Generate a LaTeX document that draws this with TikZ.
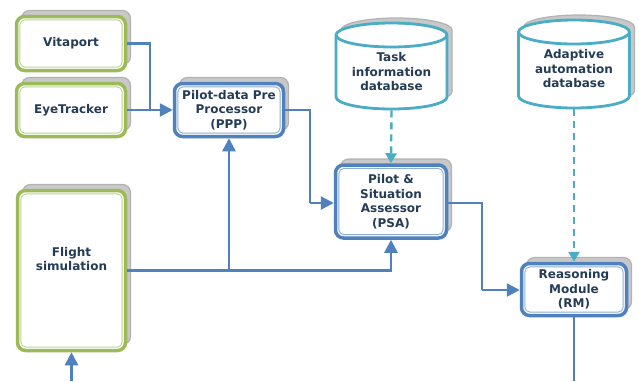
\documentclass[tikz,border=0pt]{standalone}
\usepackage{fontspec}
\setmainfont{DejaVu Sans}
\usetikzlibrary{arrows.meta,shadows}

\definecolor{leaf}{RGB}{155,187,89}
\definecolor{steel}{RGB}{79,129,189}
\definecolor{aqua}{RGB}{75,172,198}
\definecolor{ink}{RGB}{36,60,86}
\definecolor{shade}{RGB}{200,200,200}
\definecolor{shadeline}{RGB}{178,178,178}

\tikzset{
  label font/.style={font=\bfseries\fontsize{12}{14.5}\selectfont, text=ink, align=center},
  panel/.style={rounded corners=8pt, line width=3.5pt, draw=#1, fill=white,
    label font, inner sep=0pt,
    copy shadow={shadow xshift=5pt, shadow yshift=6pt, fill=shade, draw=shadeline, line width=1.2pt},
    path picture={\draw[line width=0.9pt, draw=#1!65, rounded corners=5pt]
      ([shift={(3.4pt,3.4pt)}]path picture bounding box.south west) rectangle
      ([shift={(-3.4pt,-3.4pt)}]path picture bounding box.north east);}},
  sensor/.style={panel=leaf},
  module/.style={panel=steel},
  drum/.style={inner sep=0pt, outer sep=1.3pt, minimum width=111pt},
  flow/.style={draw=steel, line width=2.6pt, -{Triangle[length=13pt,width=13pt]}},
  plainflow/.style={draw=steel, line width=2.6pt},
  lookup/.style={draw=aqua, line width=2.4pt, dash pattern=on 7pt off 5pt,
    -{Triangle[length=10pt,width=11pt]}},
}

% database drum: centre x, top y, bottom y
\newcommand\drawdrum[3]{%
  \begin{scope}[shift={(5pt,5pt)}]
    \filldraw[fill=shade, draw=shadeline, line width=1.2pt] (#1-55.5,#2+12) -- (#1-55.5,#3-12)
      arc[start angle=180,end angle=360,x radius=55.5pt,y radius=12pt]
      -- (#1+55.5,#2+12)
      arc[start angle=0,end angle=180,x radius=55.5pt,y radius=12pt] -- cycle;
  \end{scope}
  \filldraw[fill=white, draw=aqua, line width=2.8pt] (#1-55.5,#2+12) -- (#1-55.5,#3-12)
    arc[start angle=180,end angle=360,x radius=55.5pt,y radius=12pt]
    -- (#1+55.5,#2+12)
    arc[start angle=0,end angle=180,x radius=55.5pt,y radius=12pt] -- cycle;
  \draw[draw=aqua, line width=2.8pt] (#1-55.5,#2+12)
    arc[start angle=180,end angle=360,x radius=55.5pt,y radius=12pt];
}

\begin{document}
\begin{tikzpicture}[x=1pt, y=-1pt]
  \useasboundingbox (0,0) rectangle (639,381);
  \fill[white] (0,0) rectangle (639,381);

  % input sources
  \node[sensor, minimum width=109pt, minimum height=54pt] (vit) at (71,43.5) {Vitaport};
  \node[sensor, minimum width=109pt, minimum height=53pt] (eye) at (71,110) {EyeTracker};
  \node[sensor, minimum width=108pt, minimum height=160pt] (fs) at (71.5,270.5) {};
  \node[label font] (fstxt) at (71.5,259) {Flight\\simulation};

  % processing modules
  \node[module, minimum width=109pt, minimum height=53pt] (ppp) at (229,110) {Pilot-data Pre\\Processor\\(PPP)};
  \node[module, minimum width=111pt, minimum height=73pt] (psa) at (391,201.5) {Pilot \&\\Situation\\Assessor\\(PSA)};
  \node[module, minimum width=105pt, minimum height=52pt] (rm) at (574,289.5) {Reasoning\\Module\\(RM)};

  % databases
  \drawdrum{391.5}{23}{109}
  \node[drum, minimum height=86pt] (task) at (391.5,66) {};
  \node[label font] (tasktxt) at (391.5,72) {Task\\information\\database};
  \drawdrum{574}{20}{108}
  \node[drum, minimum height=88pt] (adb) at (574,64) {};
  \node[label font] (adbtxt) at (574,69) {Adaptive\\automation\\database};

  % free ends at the picture edge and bends
  \coordinate (fsin) at (71.5,381);
  \coordinate (rmout) at (574,381);
  \coordinate (j1) at (150,110);
  \coordinate (j2) at (310,203);
  \coordinate (j3) at (482,290);

  % data flow
  \draw[plainflow] (vit.east) -| (j1);
  \draw[flow] (eye.east) -- (ppp.west);
  \draw[plainflow] (ppp.east) -| (j2);
  \draw[flow] (j2) -- (j2 -| psa.west);
  \draw[flow] (fs.east) -| (psa.south);
  \draw[flow] (fs.east -| ppp.south) -- (ppp.south);
  \draw[plainflow] (psa.east |- j2) -| (j3);
  \draw[flow] (j3) -- (j3 -| rm.west);
  \draw[plainflow] (rm.south) -- (rmout);
  \draw[flow] (fsin) -- (fs.south);

  % database lookups
  \draw[lookup] (task.south) -- (psa.north);
  \draw[lookup] (adb.south) -- (rm.north);
\end{tikzpicture}
\end{document}
